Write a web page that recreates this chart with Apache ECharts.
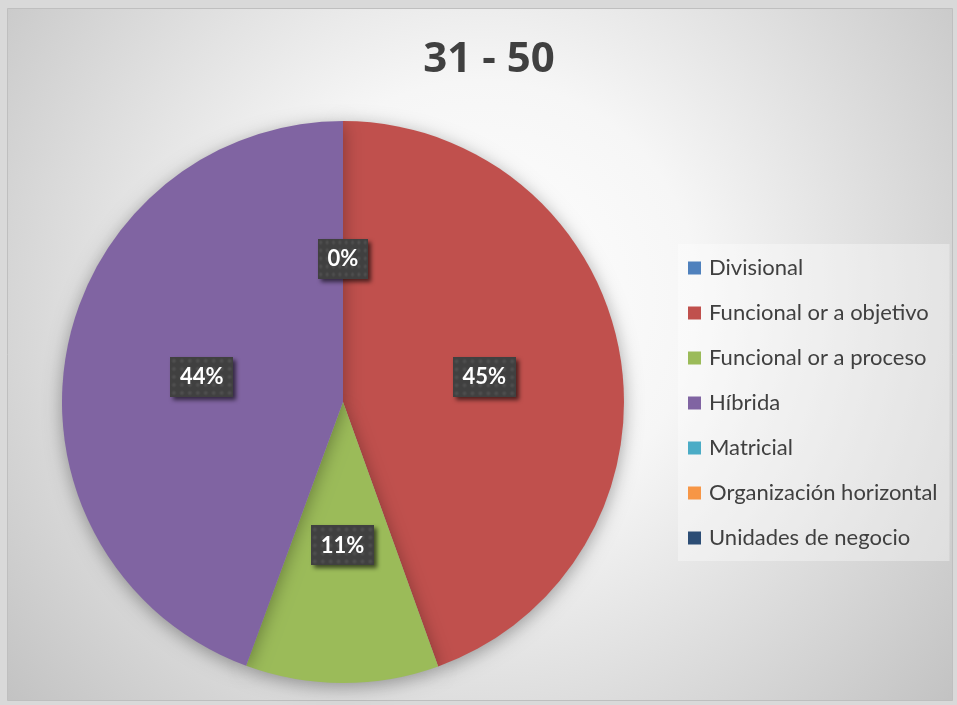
<!DOCTYPE html>
<html>
<head>
<meta charset="utf-8">
<script src="https://cdn.jsdelivr.net/npm/echarts@6/dist/echarts.min.js"></script>
<style>
html,body{margin:0;padding:0;background:#d9d9d9;}
#c{width:957px;height:705px;}
</style>
</head>
<body>
<div id="c"></div>
<script>
const titleText = '31 - 50';
const categories = ['Divisional','Funcional or a objetivo','Funcional or a proceso','Híbrida','Matricial','Organización horizontal','Unidades de negocio'];
const values = [0, 44.5, 11.1, 44.4, 0, 0, 0];
const colors = ['#4f81bd','#c0504d','#9bbb59','#8064a2','#4bacc6','#f79646','#2c4d75'];

// dotted texture for label boxes
const pat = document.createElement('canvas');
pat.width = 64; pat.height = 40;
(function(){
  const g = pat.getContext('2d');
  g.fillStyle = '#404040';
  g.fillRect(0,0,64,40);
  for (let y = 4; y < 40; y += 8) {
    for (let x = 4; x < 64; x += 8) {
      const rg = g.createRadialGradient(x,y,0,x,y,3);
      rg.addColorStop(0,'rgba(255,255,255,0.10)');
      rg.addColorStop(1,'rgba(255,255,255,0)');
      g.fillStyle = rg;
      g.fillRect(x-3,y-3,6,6);
    }
  }
})();

const chart = echarts.init(document.getElementById('c'), null, {renderer:'canvas'});
const total = values.reduce((a,b)=>a+b,0);
let zeroShown = false;
const data = categories.map((name,i)=>{
  let show = true;
  if (values[i] === 0) { show = !zeroShown; zeroShown = true; }
  return {name, value: values[i], itemStyle:{color: colors[i]}, label:{show}};
});

chart.setOption({
  backgroundColor: '#d9d9d9',
  animation: false,
  graphic: [{
    type:'rect', z:-10, silent:true,
    shape:{x:7.5,y:8.5,width:945,height:692},
    style:{
      fill: new echarts.graphic.RadialGradient(0.5,0.42,0.9,[
        {offset:0,color:'#ffffff'},
        {offset:0.35,color:'#f6f6f6'},
        {offset:1,color:'#c2c2c2'}
      ]),
      stroke:'#bfbfbf', lineWidth:1
    }
  }],
  title: {
    text: titleText, left: 484, top: 34, textAlign:'center',
    textStyle:{fontFamily:'Open Sans', fontWeight:'bold', fontSize:42, color:'#404040'}
  },
  legend: {
    orient:'vertical', left: 678, top: 244,
    padding:[13,12,12,10],
    backgroundColor:'rgba(255,255,255,0.35)',
    itemWidth:13, itemHeight:13, itemGap:23,
    icon:'rect',
    data: categories,
    textStyle:{fontFamily:'Lato', fontSize:22, color:'#404040', lineHeight:22, padding:[0,0,0,3]}
  },
  series: [{
    type:'pie',
    center:[343,402], radius:[0,281],
    startAngle:90, clockwise:true,
    data,
    itemStyle:{borderWidth:0, shadowBlur:18, shadowColor:'rgba(0,0,0,0.35)', shadowOffsetY:4},
    emphasis:{disabled:true},
    label:{
      show:true, position:'inside',
      formatter: p => Math.round(p.value/total*100) + '%',
      fontFamily:'Lato', fontWeight:'bold', fontSize:22, color:'#ffffff',
      backgroundColor:{image: pat}, padding:[9,10,9,10],
      shadowBlur:4, shadowColor:'rgba(0,0,0,0.6)', shadowOffsetX:3, shadowOffsetY:3
    },
    labelLine:{show:false}
  }]
});
</script>
</body>
</html>
